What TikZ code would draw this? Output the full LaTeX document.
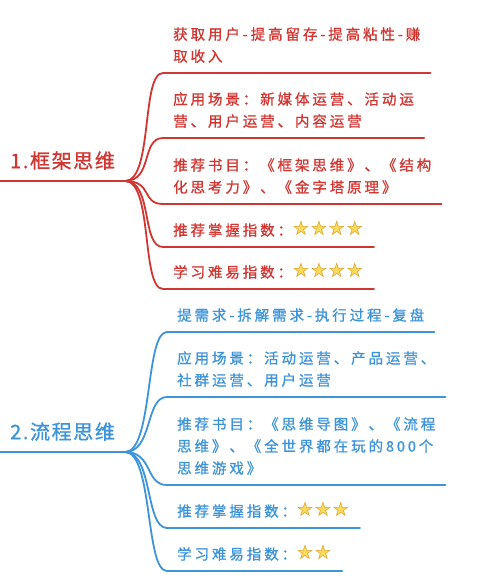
\documentclass[tikz,border=0pt]{standalone}
\usepackage{xcolor}
\usepackage{fontspec}
\usepackage{tikz}
\usetikzlibrary{positioning}

\newfontfamily\cjk[LetterSpace=20, FakeBold=1]{Noto Sans CJK SC}
\newfontfamily\cjktopic[LetterSpace=8, FakeBold=1]{Noto Sans CJK SC}
\newfontfamily\symfont{DejaVu Sans}
\definecolor{mapred}{RGB}{208,54,50}
\definecolor{mapblue}{RGB}{62,148,216}
\definecolor{stargold}{RGB}{252,218,90}
\definecolor{staredge}{RGB}{214,152,44}
\newcommand{\onestar}{\makebox[0pt][l]{\textcolor{stargold}{★}}\textcolor{staredge}{☆}}
\newcommand{\starrow}[1]{{\symfont\fontsize{20}{20}\selectfont #1}}

\begin{document}
\begin{tikzpicture}[x=1pt, y=-1pt,
      topic/.style={anchor=south west, inner xsep=10pt, inner ysep=11pt,
        font=\cjktopic\fontsize{20}{22}\selectfont},
      leaf/.style={anchor=south west, align=left, inner xsep=10pt, inner ysep=10pt,
        font=\cjk\fontsize{14.5}{22}\selectfont},
      redline/.style={draw=mapred, line width=1.8pt, line cap=round},
      blueline/.style={draw=mapblue, line width=1.8pt, line cap=round}]
    \useasboundingbox[fill=white] (0,0) rectangle (500,576);
    % first topic
    \node[topic, text=mapred] (frame) at (0,181) {1.框架思维};
    \node[leaf, text=mapred] (fgoal) at (163,73) {获取用户-提高留存-提高粘性-赚\\取收入};
    \node[leaf, text=mapred] (fuse) at (163,138) {应用场景：新媒体运营、活动运\\营、用户运营、内容运营};
    \node[leaf, text=mapred] (fbook) at (163,204) {推荐书目：《框架思维》、《结构\\化思考力》、《金字塔原理》};
    \node[leaf, text=mapred] (fmaster) at (163,247) {推荐掌握指数：\starrow{\onestar\onestar\onestar\onestar}};
    \node[leaf, text=mapred] (flearn) at (163,289) {学习难易指数：\starrow{\onestar\onestar\onestar\onestar}};
    \draw[redline] (frame.south west) -- (frame.south east);
    \foreach \b in {fgoal, fuse, fbook, fmaster, flearn}
      \draw[redline] (frame.south east) .. controls +(28,0) and +(-22,0) .. (\b.south west) -- (\b.south east);
    % second topic
    \node[topic, text=mapblue] (flow) at (0,452) {2.流程思维};
    \node[leaf, text=mapblue] (lgoal) at (167,332) {提需求-拆解需求-执行过程-复盘};
    \node[leaf, text=mapblue] (luse) at (167,397) {应用场景：活动运营、产品运营、\\社群运营、用户运营};
    \node[leaf, text=mapblue] (lbook) at (167,485) {推荐书目：《思维导图》、《流程\\思维》、《全世界都在玩的800个\\思维游戏》};
    \node[leaf, text=mapblue] (lmaster) at (167,528) {推荐掌握指数：\starrow{\onestar\onestar\onestar}};
    \node[leaf, text=mapblue] (llearn) at (167,571) {学习难易指数：\starrow{\onestar\onestar}};
    \draw[blueline] (flow.south west) -- (flow.south east);
    \foreach \b in {lgoal, luse, lbook, lmaster, llearn}
      \draw[blueline] (flow.south east) .. controls +(28,0) and +(-22,0) .. (\b.south west) -- (\b.south east);
  \end{tikzpicture}
\end{document}
